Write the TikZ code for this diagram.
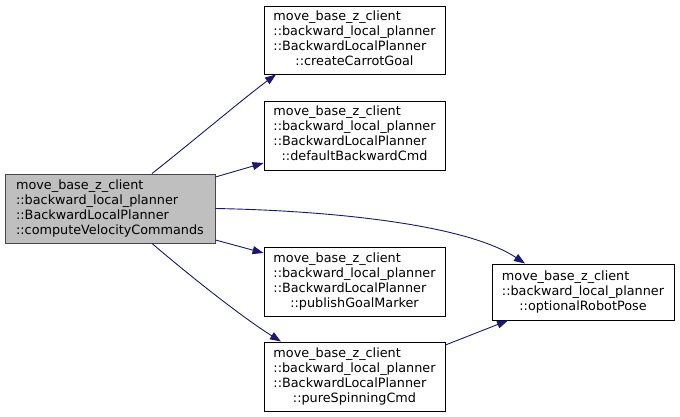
\documentclass[tikz,border=0pt]{standalone}
\usepackage{fontspec}
\setmainfont{DejaVu Sans}
\usetikzlibrary{arrows.meta}
\definecolor{edgeblue}{HTML}{191970}
\definecolor{mainfill}{HTML}{BFBFBF}
\definecolor{mainborder}{HTML}{474747}
\newcommand{\dxlabel}[2]{\begin{tabular}{@{}l@{}}#1\\\multicolumn{1}{@{}c@{}}{#2}\end{tabular}}
\tikzset{
  funcbox/.style={draw=black, fill=white, line width=0.9pt, inner sep=0pt,
    minimum width=181pt, minimum height=69pt, font=\fontsize{12.8}{15}\selectfont},
  rootbox/.style={funcbox, draw=mainborder, fill=mainfill, minimum width=210pt},
  callarrow/.style={draw=edgeblue, line width=0.9pt,
    -{Triangle[length=11pt,width=8pt]}, fill=none},
}
\begin{document}
\begin{tikzpicture}[x=1pt,y=-1pt]
\useasboundingbox (0,0) rectangle (680,417);
\node[rootbox] (main) at (110,208.5)
  {\dxlabel{move\_base\_z\_client\\::backward\_local\_planner\\::BackwardLocalPlanner}{::computeVelocityCommands}};
\node[funcbox, minimum height=68pt] (carrot) at (354.5,40)
  {\dxlabel{move\_base\_z\_client\\::backward\_local\_planner\\::BackwardLocalPlanner}{::createCarrotGoal}};
\node[funcbox] (default) at (354.5,135.5)
  {\dxlabel{move\_base\_z\_client\\::backward\_local\_planner\\::BackwardLocalPlanner}{::defaultBackwardCmd}};
\node[funcbox] (publish) at (354.5,281.5)
  {\dxlabel{move\_base\_z\_client\\::backward\_local\_planner\\::BackwardLocalPlanner}{::publishGoalMarker}};
\node[funcbox] (spin) at (354.5,376.5)
  {\dxlabel{move\_base\_z\_client\\::backward\_local\_planner\\::BackwardLocalPlanner}{::pureSpinningCmd}};
\node[funcbox, minimum width=182pt, minimum height=56pt] (pose) at (583,292)
  {\dxlabel{move\_base\_z\_client\\::backward\_local\_planner}{::optionalRobotPose}};

\draw[callarrow] ([xshift=42pt]main.north) .. controls +(38,-30) and +(-30,22) .. ([xshift=-78.5pt]carrot.south);
\draw[callarrow] ([yshift=31.5pt]main.east) -- ([yshift=-27.5pt]default.west);
\draw[callarrow] (main.east) .. controls +(110,2) and +(-60,-40) .. ([xshift=-58pt]pose.north);
\draw[callarrow] ([yshift=-31.5pt]main.east) -- ([yshift=28.5pt]publish.west);
\draw[callarrow] ([xshift=42pt]main.south) .. controls +(35,30) and +(-40,-25) .. ([xshift=-73.5pt]spin.north);
\draw[callarrow] ([yshift=31.5pt]spin.east) -- ([xshift=-75pt]pose.south);
\end{tikzpicture}
\end{document}
